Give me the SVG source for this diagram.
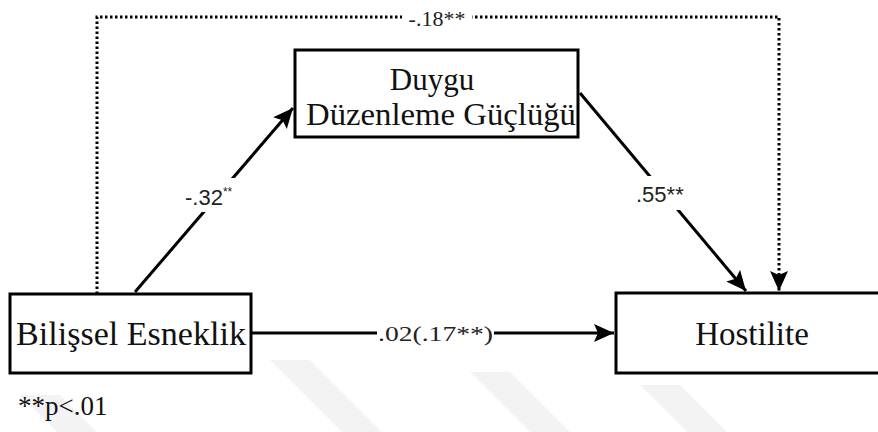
<svg xmlns="http://www.w3.org/2000/svg" width="878" height="432" viewBox="0 0 878 432">
<style>
.box{fill:#fff;stroke:#000;stroke-width:3}
.conn{fill:none;stroke:#000;stroke-width:3}
.dot{fill:none;stroke:#000;stroke-width:3;stroke-dasharray:2.5 2.5}
.bg{fill:#fff}
.wm{fill:#f3f3f3}
</style>
<defs>
<marker id="ah" markerUnits="userSpaceOnUse" markerWidth="22" markerHeight="20" refX="20" refY="9" orient="auto">
<path d="M0,0 L20,9 L0,18 L4,9 z" fill="#000"/>
</marker>
</defs>
<rect width="878" height="432" fill="#fff"/>
<g id="watermark">
<polygon class="wm" points="20,395 60,395 97,432 57,432"/>
<polygon class="wm" points="270,360 310,360 382,432 342,432"/>
<polygon class="wm" points="470,372 510,372 570,432 530,432"/>
<polygon class="wm" points="640,385 680,385 727,432 687,432"/>
</g>
<g id="connectors">
<path class="dot" d="M97,294 V17 H779 V291" marker-end="url(#ah)"/>
<path class="conn" d="M135,292 L293,108" marker-end="url(#ah)"/>
<path class="conn" d="M580,93 L746,291" marker-end="url(#ah)"/>
<path class="conn" d="M251,333 L614,333" marker-end="url(#ah)"/>
<rect class="bg" x="402" y="8" width="70" height="20"/>
<rect class="bg" x="183" y="178" width="62" height="34"/>
<rect class="bg" x="634" y="176" width="66" height="34"/>
<rect class="bg" x="377" y="322" width="117" height="22"/>
<text x="437" y="26" font-family="Liberation Serif, Times New Roman, DejaVu Serif, serif" font-size="22" fill="#222" text-anchor="middle">-.18**</text>
<text x="185" y="205" font-family="Liberation Sans, Arial, sans-serif" font-size="22" fill="#222">-.32<tspan font-size="12" dy="-9">**</tspan></text>
<text x="636" y="202" font-family="Liberation Sans, Arial, sans-serif" font-size="22" fill="#222">.55**</text>
<text x="378" y="341" font-family="Liberation Serif, Times New Roman, DejaVu Serif, serif" font-size="21" fill="#222" textLength="115" lengthAdjust="spacingAndGlyphs">.02(.17**)</text>
</g>
<g id="node-duygu">
<rect class="box" x="295" y="50" width="283" height="87"/>
<text x="432" y="90" font-family="Liberation Serif, Times New Roman, DejaVu Serif, serif" font-size="31" fill="#111" text-anchor="middle">Duygu</text>
<text x="441" y="125" font-family="Liberation Serif, Times New Roman, DejaVu Serif, serif" font-size="31" fill="#111" text-anchor="middle" textLength="270" lengthAdjust="spacingAndGlyphs">Düzenleme Güçlüğü</text>
</g>
<g id="node-bilissel">
<rect class="box" x="10" y="294" width="241" height="79"/>
<text x="131" y="345" font-family="Liberation Serif, Times New Roman, DejaVu Serif, serif" font-size="33" fill="#111" text-anchor="middle" textLength="230" lengthAdjust="spacingAndGlyphs">Bilişsel Esneklik</text>
</g>
<g id="node-hostilite">
<rect class="box" x="616" y="293" width="290" height="80"/>
<text x="752" y="345" font-family="Liberation Serif, Times New Roman, DejaVu Serif, serif" font-size="33" fill="#111" text-anchor="middle">Hostilite</text>
</g>
<g id="note">
<text x="18" y="415" font-family="Liberation Serif, Times New Roman, DejaVu Serif, serif" font-size="27" fill="#111">**p&lt;.01</text>
</g>
</svg>
